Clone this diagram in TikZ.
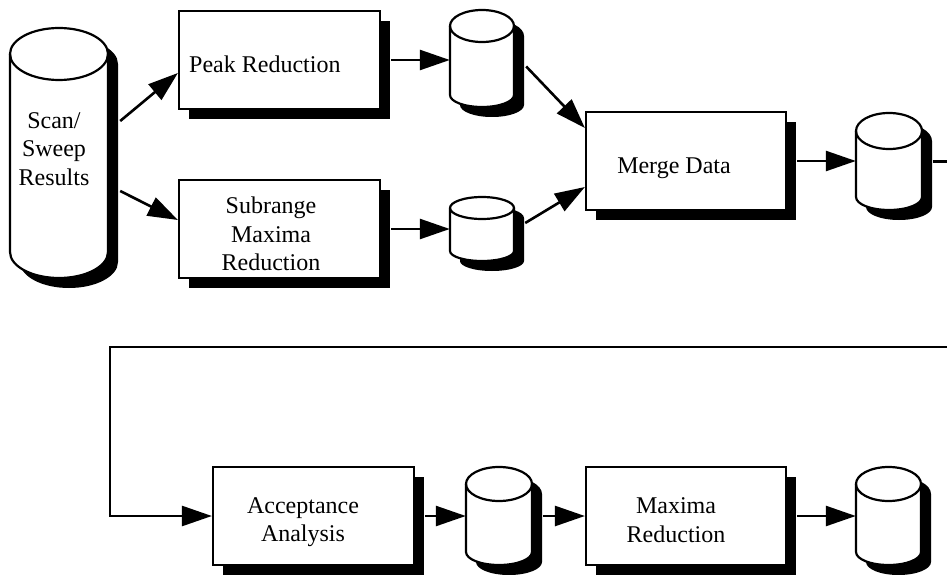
\documentclass[tikz,border=0pt]{standalone}
\usepackage{fontspec}
\setmainfont{Liberation Serif}
\usetikzlibrary{arrows.meta,shadows}
\tikzset{
  procbox/.style={draw, fill=white, line width=2.2pt, inner sep=0pt,
    drop shadow={shadow xshift=10pt, shadow yshift=-10pt, fill=black, opacity=1}},
  lbl/.style={font=\fontsize{24}{28.5}\selectfont, inner sep=0pt, align=center},
  arr/.style={line width=2.6pt, -{Triangle[length=30pt,width=20pt]}},
  cylbody/.style={draw, fill=white, line width=2.2pt},
}
\newcommand\dbcyl[7]{% name,left,top,right,bottom,ry top,ry bottom
  \pgfmathsetmacro\cyrx{(#4-#2)/2}
  \pgfmathsetmacro\cyw{#4-#2}
  \pgfmathsetmacro\cyh{#5-#3}
  \fill[shift={(10pt,-10pt)}] (#2,-#3-#6) -- (#2,-#5+#7)
     arc[start angle=180,end angle=360,x radius=\cyrx pt,y radius=#7pt]
     -- (#4,-#3-#6)
     arc[start angle=0,end angle=180,x radius=\cyrx pt,y radius=#6pt] -- cycle;
  \draw[cylbody] (#2,-#3-#6) -- (#2,-#5+#7)
     arc[start angle=180,end angle=360,x radius=\cyrx pt,y radius=#7pt]
     -- (#4,-#3-#6)
     arc[start angle=0,end angle=180,x radius=\cyrx pt,y radius=#6pt] -- cycle;
  \draw[line width=2.2pt] (#2,-#3-#6)
     arc[start angle=180,end angle=360,x radius=\cyrx pt,y radius=#6pt];
  \node[inner sep=0pt, minimum width=\cyw pt, minimum height=\cyh pt] (#1)
     at ({(#2+#4)/2},{-(#5+#3)/2}) {};
}
\begin{document}
\begin{tikzpicture}[x=1pt,y=1pt]
\useasboundingbox (0,0) rectangle (947,-575);

% cylinders
\dbcyl{scan}{10}{28}{108}{278}{26}{26}
\dbcyl{c1}{450}{10}{514}{107}{16}{12}
\dbcyl{c2}{450}{197}{514}{261}{11}{10}
\dbcyl{c3}{856}{113}{922}{210}{18}{13}
\dbcyl{c4}{466}{467}{532}{565}{17}{13}
\dbcyl{c5}{856}{467}{921}{565}{17}{13}

% process boxes
\node[procbox, minimum width=201pt, minimum height=98pt] (peak) at (279.5,-60) {};
\node[procbox, minimum width=201pt, minimum height=98pt] (sub) at (279.5,-229) {};
\node[procbox, minimum width=200pt, minimum height=98pt] (merge) at (686,-161) {};
\node[procbox, minimum width=201pt, minimum height=98pt] (acc) at (313.5,-516) {};
\node[procbox, minimum width=200pt, minimum height=98pt] (max) at (686,-516) {};

% labels
\node[lbl, anchor=center] (tscan) at (54,-149) {Scan/\\Sweep\\Results};
\node[lbl, anchor=base west] (tpeak) at (189,-73) {Peak Reduction};
\node[lbl, anchor=center] (tsub) at (271,-234) {Subrange\\Maxima\\Reduction};
\node[lbl, anchor=base] (tmerge) at (674,-173) {Merge Data};
\node[lbl, anchor=center] (tacc) at (303,-522) {Acceptance\\Analysis};
\node[lbl, anchor=center] (tmax) at (676,-520) {Maxima\\Reduction};

% connectors
\draw[arr] ([shift={(12pt,32pt)}]scan.east) -- ([yshift=-13pt]peak.west);
\draw[arr] ([shift={(12pt,-38pt)}]scan.east) -- ([yshift=9pt]sub.west);
\draw[arr] ([xshift=10pt]peak.east) -- (peak.east -| c1.west);
\draw[arr] ([xshift=10pt]sub.east) -- (sub.east -| c2.west);
\draw[arr] ([shift={(12pt,-8pt)}]c1.east) -- ([yshift=33pt]merge.west);
\draw[arr] ([shift={(11pt,6pt)}]c2.east) -- ([yshift=-26pt]merge.west);
\draw[arr] ([xshift=10pt]merge.east) -- (merge.east -| c3.west);

\coordinate (r1) at (960,-347);
\coordinate (l1) at (110,-347);
\draw[arr] ([xshift=11pt]c3.east) -| (r1) -- (l1) |- (acc.west);

\draw[arr] ([xshift=10pt]acc.east) -- (acc.east -| c4.west);
\draw[arr] ([xshift=11pt]c4.east) -- (c4.east -| max.west);
\draw[arr] ([xshift=10pt]max.east) -- (max.east -| c5.west);
\end{tikzpicture}
\end{document}
